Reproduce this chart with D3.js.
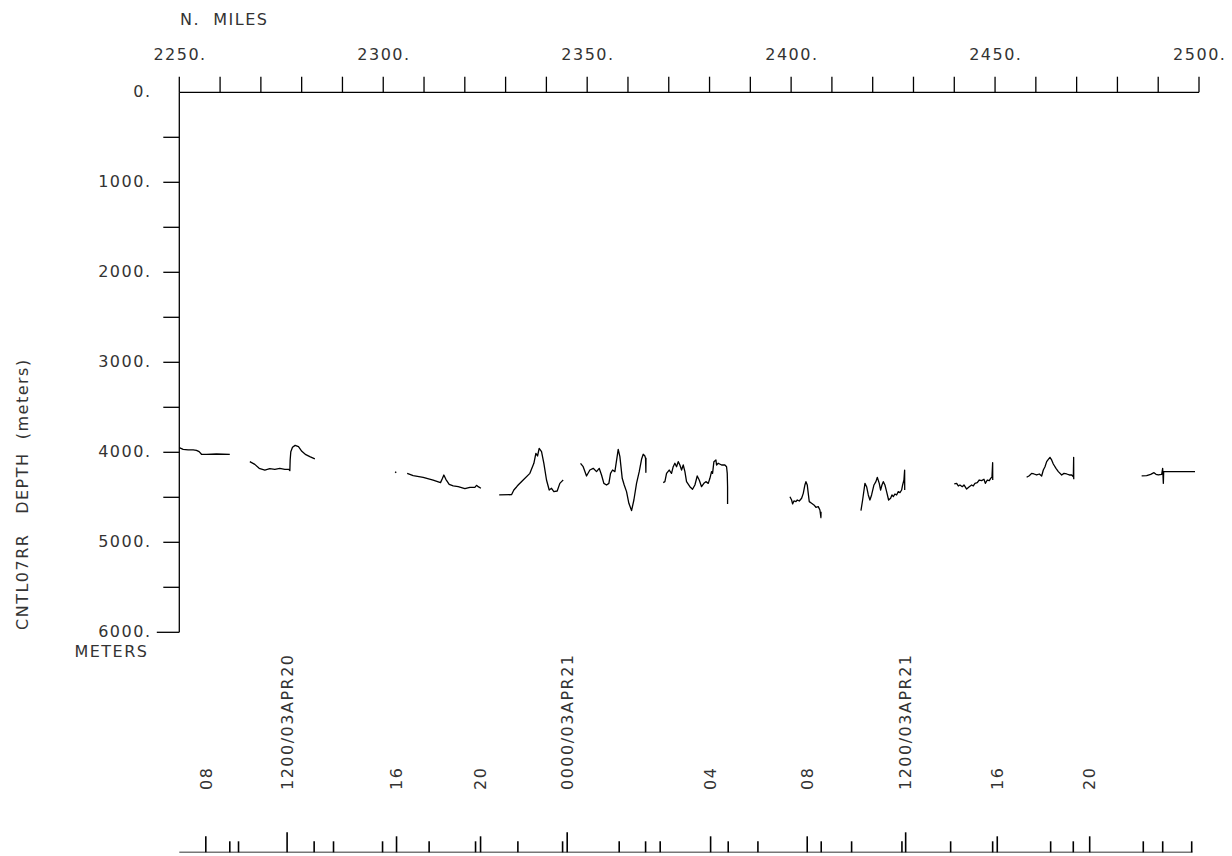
<!DOCTYPE html>
<html>
<head>
<meta charset="utf-8">
<script src="https://cdn.jsdelivr.net/npm/d3@7"></script>
<style>
  html, body { margin: 0; padding: 0; background: #fff; }
  svg text { font-family: "DejaVu Sans", sans-serif; font-size: 16px; fill: #333; letter-spacing: 1.5px; }
</style>
</head>
<body>
<svg id="chart" width="1232" height="856"></svg>
<script>
// ---------------- data ----------------
const topTickMiles = [2250,2260,2270,2280,2290,2300,2310,2320,2330,2340,2350,2360,2370,2380,2390,2400,2410,2420,2430,2440,2450,2460,2470,2480,2490,2500];
const topLabelMiles = [2250,2300,2350,2400,2450,2500];
const depthLabels = [0,1000,2000,3000,4000,5000,6000];
const depthTicks = [500,1000,1500,2000,2500,3000,3500,4000,4500,5000,5500,6000];

// time axis (hour marks along track, in N. miles)
const timeTickMiles = [2256.50,2262.38,2264.52,2276.43,2283.06,2287.81,2299.83,2303.26,2311.25,2322.63,2323.86,2333.01,2343.97,2345.10,2357.85,2364.32,2367.90,2380.26,2384.58,2391.86,2403.95,2407.38,2414.83,2427.17,2428.08,2439.11,2449.41,2450.54,2463.63,2469.18,2473.20,2486.34,2491.10,2498.21];
const timeTickKind  = ["M","S","S","L","S","S","S","M","S","S","M","S","S","L","S","S","S","M","S","S","M","S","S","S","L","S","S","M","S","S","M","S","S","S"];
const timeLabelMiles = [2256.50,2276.43,2303.26,2323.86,2345.10,2380.26,2403.95,2428.08,2450.54,2473.20];
const timeLabelText  = ["08","1200/03APR20","16","20","0000/03APR21","04","08","1200/03APR21","16","20"];
const timeAxisEnd = 2498.4;

// bathymetry profile segments: [N. miles, depth m]
const seg01 = [[2250.0,3948],[2250.94,3967],[2252.17,3974],[2253.39,3974],[2254.21,3978],[2254.86,3993],[2255.44,4022],[2256.66,4022],[2259.11,4019],[2262.38,4022]];
const seg02 = [[2267.29,4104],[2268.51,4134],[2269.58,4178],[2270.97,4197],[2272.19,4182],[2273.42,4189],[2274.64,4178],[2275.87,4189],[2276.85,4189],[2277.10,4204],[2277.18,4085],[2277.34,3993],[2277.75,3945],[2278.40,3923],[2279.22,3937],[2280.04,3989],[2281.02,4026],[2282.00,4048],[2283.23,4074]];
const seg03 = [[2302.90,4218],[2303.20,4226]];
const seg04 = [[2305.87,4234],[2307.34,4260],[2309.79,4278],[2312.24,4308],[2314.04,4337],[2314.53,4289],[2314.86,4252],[2315.35,4300],[2316.17,4356],[2317.15,4374],[2318.38,4382],[2320.01,4404],[2321.24,4389],[2322.46,4389],[2322.87,4367],[2323.28,4382],[2323.94,4400]];
const seg05 = [[2328.43,4474],[2331.45,4471],[2332.02,4419],[2332.68,4385],[2333.08,4363],[2334.31,4308],[2335.95,4234],[2336.93,4122],[2337.42,4011],[2337.83,4041],[2338.23,3956],[2338.81,3993],[2339.38,4122],[2340.03,4308],[2340.69,4419],[2341.26,4400],[2341.83,4437],[2342.65,4430],[2343.30,4345],[2343.71,4326],[2344.12,4308]];
const seg06 = [[2348.37,4122],[2349.02,4160],[2349.84,4263],[2350.66,4197],[2351.48,4178],[2352.29,4215],[2352.95,4178],[2353.52,4252],[2354.09,4345],[2354.75,4363],[2355.32,4345],[2355.73,4234],[2356.22,4197],[2356.79,4215],[2357.61,3967],[2358.02,4048],[2358.59,4289],[2359.08,4363],[2359.65,4437],[2360.22,4567],[2360.88,4648],[2361.45,4530],[2362.10,4345],[2362.76,4215],[2363.33,4078],[2363.74,4022],[2364.15,4041],[2364.31,4067],[2364.39,4222],[2364.42,4060]];
const seg07 = [[2368.64,4337],[2369.05,4326],[2369.46,4234],[2370.11,4197],[2370.68,4234],[2371.09,4160],[2371.50,4122],[2371.91,4160],[2372.32,4104],[2372.73,4141],[2373.14,4197],[2373.55,4141],[2373.96,4215],[2374.36,4326],[2375.18,4382],[2375.83,4411],[2376.41,4363],[2376.98,4263],[2377.47,4308],[2378.04,4382],[2378.61,4345],[2379.10,4326],[2379.68,4345],[2380.09,4289],[2380.49,4215],[2380.74,4234],[2381.07,4104],[2381.56,4085],[2381.72,4141],[2382.13,4122],[2382.95,4141],[2383.76,4141],[2384.17,4160],[2384.34,4234],[2384.42,4382],[2384.42,4574]];
const seg08 = [[2399.71,4493],[2400.12,4530],[2400.36,4574],[2400.69,4541],[2401.18,4548],[2401.51,4530],[2402.00,4541],[2402.57,4511],[2402.98,4456],[2403.38,4363],[2403.63,4326],[2403.96,4363],[2404.20,4456],[2404.45,4548],[2405.02,4567],[2405.59,4585],[2406.08,4611],[2406.65,4604],[2407.06,4641],[2407.31,4726],[2407.33,4660]];
const seg09 = [[2417.12,4648],[2417.53,4530],[2418.10,4345],[2418.51,4382],[2418.92,4474],[2419.32,4530],[2419.73,4474],[2420.31,4363],[2420.79,4326],[2421.12,4278],[2421.61,4345],[2421.94,4419],[2422.27,4363],[2422.59,4326],[2423.00,4363],[2423.41,4437],[2423.90,4530],[2424.39,4511],[2424.72,4474],[2425.05,4493],[2425.45,4463],[2425.86,4474],[2426.27,4437],[2426.68,4448],[2427.09,4419],[2427.34,4363],[2427.66,4308],[2427.83,4197],[2427.85,4419]];
const seg10 = [[2440.00,4352],[2440.58,4345],[2440.99,4374],[2441.39,4363],[2441.97,4382],[2442.38,4363],[2443.03,4408],[2443.68,4382],[2444.26,4363],[2444.66,4374],[2445.07,4345],[2445.64,4337],[2446.13,4308],[2446.71,4315],[2447.28,4300],[2447.61,4345],[2448.10,4308],[2448.59,4315],[2448.92,4289],[2449.24,4278],[2449.41,4115],[2449.43,4308]];
const seg11 = [[2457.74,4278],[2458.39,4260],[2458.97,4234],[2459.54,4241],[2460.19,4252],[2460.85,4241],[2461.42,4263],[2461.83,4197],[2462.24,4160],[2462.65,4104],[2463.06,4078],[2463.46,4056],[2463.87,4085],[2464.28,4130],[2464.94,4178],[2465.51,4215],[2466.33,4252],[2466.90,4234],[2467.55,4241],[2468.21,4252],[2468.78,4252],[2469.19,4271],[2469.27,4056],[2469.29,4300]];
const seg12 = [[2485.94,4263],[2487.17,4260],[2488.15,4245],[2488.97,4226],[2489.46,4245],[2490.03,4252],[2490.85,4245],[2491.09,4178],[2491.26,4345],[2491.34,4215],[2499.02,4215]];
const profileSegments = [seg01,seg02,seg03,seg04,seg05,seg06,seg07,seg08,seg09,seg10,seg11,seg12];

// ---------------- drawing ----------------
const svg = d3.select("#chart");
const x = d3.scaleLinear().domain([2250, 2500]).range([179.3, 1199]);
const y = d3.scaleLinear().domain([0, 6000]).range([92.3, 632.3]);

// top axis (N. miles)
svg.append("line").attr("x1", x(2250)).attr("x2", x(2500)).attr("y1", y(0)).attr("y2", y(0))
  .attr("stroke", "#000").attr("stroke-width", 1.3);
svg.selectAll(".tt").data(topTickMiles).join("line")
  .attr("x1", d => x(d)).attr("x2", d => x(d)).attr("y1", y(0) - 15.6).attr("y2", y(0))
  .attr("stroke", "#000").attr("stroke-width", 1.3);
svg.selectAll(".tl").data(topLabelMiles).join("text")
  .attr("x", d => x(d) + 0.75).attr("y", 60).attr("text-anchor", "middle")
  .text(d => d + ".");
svg.append("text").attr("x", 180).attr("y", 24.5).attr("xml:space", "preserve")
  .style("white-space", "pre").text("N.  MILES");

// left axis (depth)
svg.append("line").attr("x1", x(2250)).attr("x2", x(2250)).attr("y1", y(0)).attr("y2", y(6000))
  .attr("stroke", "#000").attr("stroke-width", 1.3);
svg.selectAll(".lt").data(depthTicks).join("line")
  .attr("x1", d => x(2250) - (d === 6000 ? 22.5 : 16)).attr("x2", x(2250))
  .attr("y1", d => y(d)).attr("y2", d => y(d))
  .attr("stroke", "#000").attr("stroke-width", 1.3);
svg.selectAll(".ll").data(depthLabels).join("text")
  .attr("x", 151.5).attr("y", d => y(d) + 5).attr("text-anchor", "end")
  .text(d => d + ".");
svg.append("text").attr("x", 148.5).attr("y", 657).attr("text-anchor", "end").text("METERS");
svg.append("text").attr("transform", "translate(27.5,630) rotate(-90)")
  .attr("xml:space", "preserve").style("white-space", "pre")
  .text("CNTL07RR   DEPTH  (meters)");

// bathymetry profile
const line = d3.line().x(d => x(d[0])).y(d => y(d[1]));
svg.selectAll(".seg").data(profileSegments).join("path")
  .attr("d", line).attr("fill", "none").attr("stroke", "#000")
  .attr("stroke-width", 1.3).attr("stroke-linejoin", "round");

// time axis at bottom
const tY = 852.3;
svg.append("line").attr("x1", x(2250)).attr("x2", x(timeAxisEnd)).attr("y1", tY).attr("y2", tY)
  .attr("stroke", "#777").attr("stroke-width", 1.4);
const tickLen = { S: 11, M: 16, L: 20 };
svg.selectAll(".bt").data(timeTickMiles).join("line")
  .attr("x1", d => x(d)).attr("x2", d => x(d))
  .attr("y1", (d, i) => tY - tickLen[timeTickKind[i]]).attr("y2", tY)
  .attr("stroke", "#000").attr("stroke-width", 1.6);
svg.selectAll(".bl").data(timeLabelMiles).join("text")
  .attr("transform", d => `translate(${x(d) + 5.8},790) rotate(-90)`)
  .text((d, i) => timeLabelText[i]);
</script>
</body>
</html>
